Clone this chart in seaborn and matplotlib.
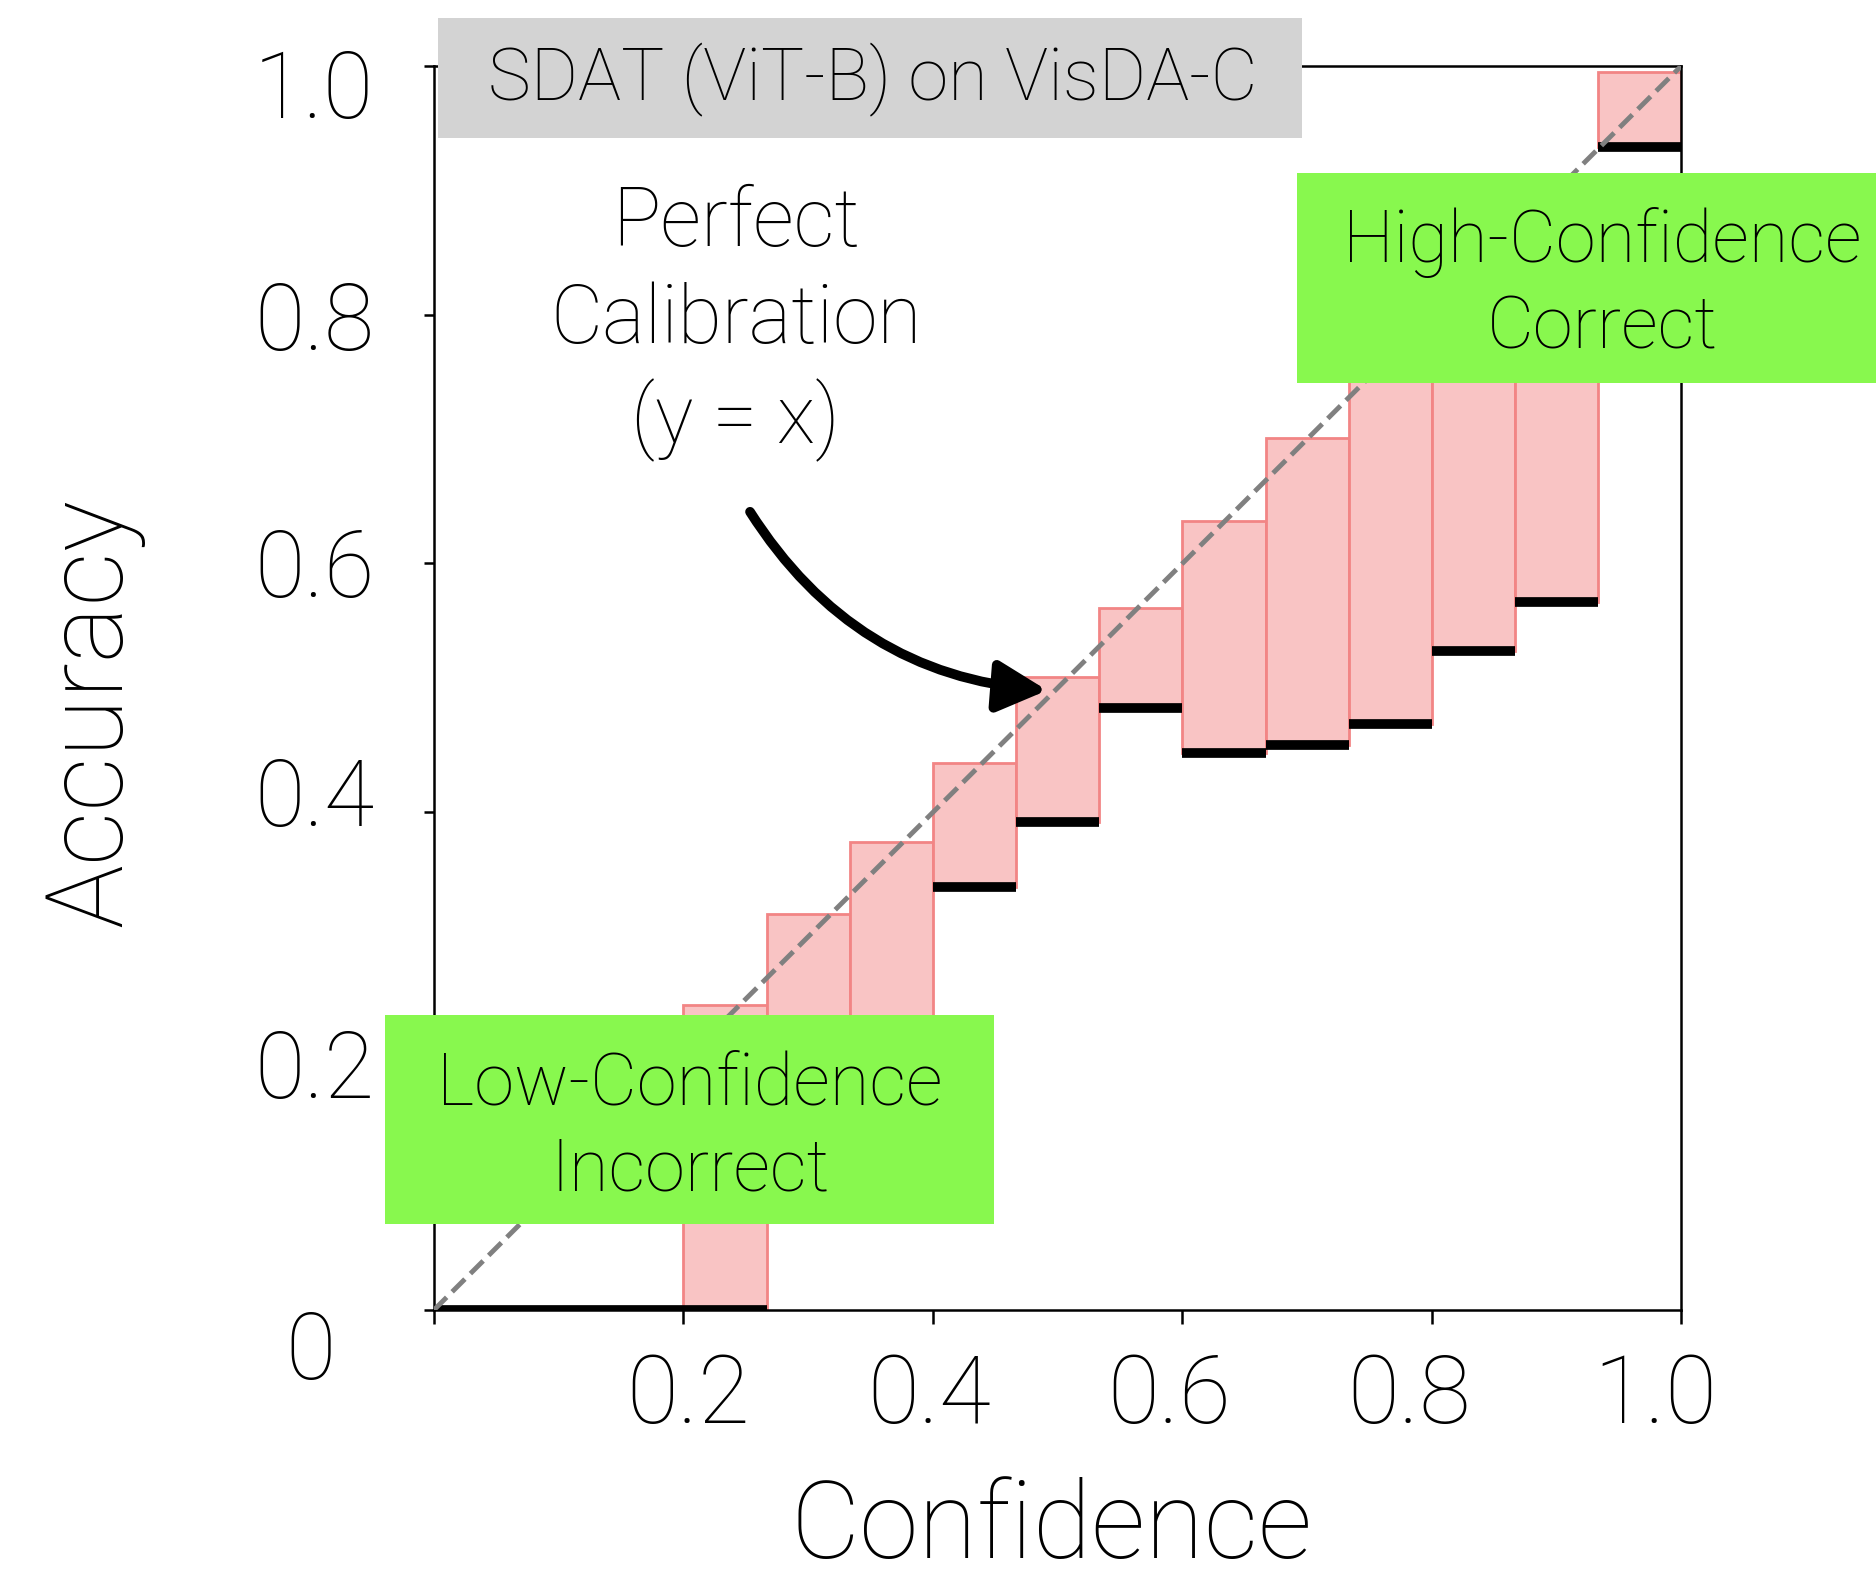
import numpy as np
import pandas as pd
import matplotlib
matplotlib.use("Agg")
import matplotlib.pyplot as plt
import matplotlib.transforms as mtransforms
import seaborn as sns
from matplotlib.patches import Rectangle

# reliability diagram, 15 bins
n_bins = 15
bin_left = np.arange(n_bins) / n_bins
bin_acc = [0.0, 0.0, 0.0, 0.0, 0.16, 0.21, 0.340, 0.392, 0.484, 0.448, 0.454, 0.471, 0.530, 0.569, 0.935]
bin_conf = [0.0, 0.0, 0.0, 0.245, 0.318, 0.376, 0.440, 0.509, 0.564, 0.634, 0.701, 0.767, 0.834, 0.900, 0.995]
ticks = [0, 0.2, 0.4, 0.6, 0.8, 1.0]
tick_labels = ["", "0.2", "0.4", "0.6", "0.8", "1.0"]
# the tick labels of the original sit a little off their ticks (pixels)
xlab_shift = [0, 5, -4, -13, -23, -26]
ylab_shift = [0, 2, -21, -1, 1, 17]

sns.set_style("ticks")
plt.rcParams['font.family'] = ['Roboto', 'DejaVu Sans']
plt.rcParams['font.weight'] = 'light'
plt.rcParams['text.color'] = 'black'
plt.rcParams['axes.labelcolor'] = 'black'
plt.rcParams['xtick.color'] = 'black'
plt.rcParams['ytick.color'] = 'black'

fig = plt.figure(figsize=(18.76, 15.73), dpi=100)
ax = fig.add_axes([0.2313, 0.1672, 0.665, 0.791])

df = pd.DataFrame({'left': bin_left, 'acc': bin_acc, 'conf': bin_conf})
df['gap'] = df['conf'] - df['acc']

# gap bars (pink)
ax.bar(df['left'], df['gap'], bottom=df['acc'], width=1 / n_bins, align='edge',
       facecolor='#f9c4c4', edgecolor='#f28585', linewidth=2, zorder=2)
# accuracy lines
ax.hlines(df['acc'], df['left'], df['left'] + 1 / n_bins, colors='black', linewidth=7, zorder=3)

# perfect calibration
diag = pd.DataFrame({'x': [0, 1], 'y': [0, 1]})
sns.lineplot(data=diag, x='x', y='y', ax=ax, color='gray', linestyle='--', linewidth=3.5, zorder=4)

ax.set_xlim(0, 1)
ax.set_ylim(0, 1)
ax.set_xticks(ticks)
ax.set_xticklabels(tick_labels)
ax.set_yticks(ticks)
ax.set_yticklabels(tick_labels)
for s in ax.spines.values():
    s.set_linewidth(1.8)
    s.set_color('black')
ax.tick_params(axis='y', length=7, width=1.8, pad=36, labelsize=66, colors='black')
ax.tick_params(axis='x', length=10, width=1.8, pad=20, labelsize=68, colors='black')
for lab, dx in zip(ax.get_xticklabels(), xlab_shift):
    lab.set_transform(lab.get_transform() + mtransforms.ScaledTranslation(dx / 100, 0, fig.dpi_scale_trans))
for lab, dy in zip(ax.get_yticklabels(), ylab_shift):
    lab.set_transform(lab.get_transform() + mtransforms.ScaledTranslation(0, -dy / 100, fig.dpi_scale_trans))
ax.text(-0.0986, -0.035, '0', ha='center', va='center', fontsize=66, clip_on=False)

ax.set_xlabel('Confidence', fontsize=77, fontweight='light')
ax.set_ylabel('Accuracy', fontsize=77, fontweight='light')
ax.xaxis.set_label_coords(0.495, -0.134)
ax.yaxis.set_label_coords(-0.232, 0.48)

# annotation
ax.text(0.242, 0.793, 'Perfect\nCalibration\n(y = x)', ha='center', va='center',
        fontsize=58, linespacing=1.29)
ax.annotate('', xy=(0.4916, 0.498), xytext=(0.2534, 0.6415),
            arrowprops=dict(arrowstyle='-|>,head_length=0.6,head_width=0.31', mutation_scale=50,
                            lw=7, color='black', shrinkA=0, shrinkB=0,
                            connectionstyle='arc3,rad=0.25'), zorder=5)

# boxes
fig.patches.append(Rectangle((0.2335, 0.9123), 0.4606, 0.0763, transform=fig.transFigure,
                             facecolor='#d3d3d3', edgecolor='none', zorder=5))
fig.text(0.4653, 0.949, 'SDAT (ViT-B) on VisDA-C', ha='center', va='center', fontsize=52, zorder=6)

fig.patches.append(Rectangle((0.6914, 0.7565), 0.3086, 0.1335, transform=fig.transFigure,
                             facecolor='#88f84e', edgecolor='none', zorder=5))
fig.text(0.854, 0.8186, 'High-Confidence\nCorrect', ha='center', va='center', fontsize=52,
         linespacing=1.30, zorder=6)

fig.patches.append(Rectangle((0.2052, 0.2219), 0.3246, 0.1329, transform=fig.transFigure,
                             facecolor='#88f84e', edgecolor='none', zorder=5))
fig.text(0.3678, 0.2833, 'Low-Confidence\nIncorrect', ha='center', va='center', fontsize=52,
         linespacing=1.30, zorder=6)

fig.savefig('out.png', dpi=100)
